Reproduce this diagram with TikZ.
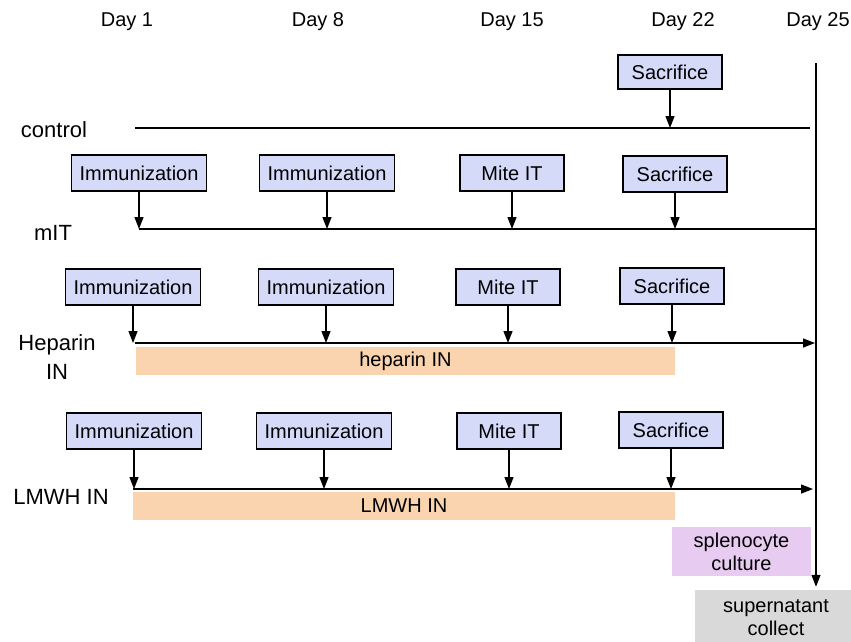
\documentclass[tikz,border=0pt]{standalone}
\usepackage{fontspec}
\setmainfont{Liberation Sans}
\usetikzlibrary{arrows.meta}
\definecolor{boxblue}{HTML}{D6DAF9}
\definecolor{barorange}{HTML}{F9D4AE}
\definecolor{cultpink}{HTML}{E8CBF1}
\definecolor{supgray}{HTML}{D9D9D9}

\begin{document}
\begin{tikzpicture}[x=1pt,y=-1pt,
    every node/.style={font=\fontsize{20}{23}\selectfont},
    rowlab/.style={font=\fontsize{22}{29}\selectfont},
    evt/.style={draw,line width=1.2pt,fill=boxblue,minimum width=104pt,minimum height=36pt,inner xsep=8pt},
    tl/.style={line width=1.3pt},
    tick/.style={line width=1.3pt,-{Triangle[length=12pt,width=9pt]}},
    bar/.style={fill=barorange,inner sep=0pt,minimum height=28pt}]
    \useasboundingbox (0,0) rectangle (851,641);

    % days
    \node (d1) at (127,22) {Day 1};
    \node (d8) at (318,22) {Day 8};
    \node (d15) at (512,22) {Day 15};
    \node (d22) at (683,22) {Day 22};
    \node (d25) at (818,22) {Day 25};

    % control
    \node[rowlab] (lctl) at (54,130) {control};
    \coordinate (c0) at (135,128);
    \coordinate (c1) at (810,128);
    \draw[tl] (c0) -- (c1);
    \node[evt,minimum height=34pt] (cS) at (670,72) {Sacrifice};
    \draw[tick] (cS.south) -- (cS.south |- c0);

    % mIT
    \node[rowlab] (lmit) at (53,233) {mIT};
    \coordinate (m0) at (139,229);
    \coordinate (m1) at (817,229);
    \draw[tl] (m0) -- (m1);
    \node[evt] (mI1) at (139,173) {Immunization};
    \node[evt] (mI8) at (327,173) {Immunization};
    \node[evt] (mM) at (512,173) {Mite IT};
    \node[evt] (mS) at (675,174) {Sacrifice};
    \draw[tick] (mI1.south) -- (mI1.south |- m0);
    \draw[tick] (mI8.south) -- (mI8.south |- m0);
    \draw[tick] (mM.south) -- (mM.south |- m0);
    \draw[tick] (mS.south) -- (mS.south |- m0);

    % heparin
    \node[rowlab,align=center] (lhep) at (57,357) {Heparin\\IN};
    \coordinate (h0) at (135,343);
    \coordinate (h1) at (815,343);
    \draw[tick] (h0) -- (h1);
    \node[bar,minimum width=539pt] (hbar) at (405.5,361) {heparin IN};
    \node[evt] (hI1) at (133,287) {Immunization};
    \node[evt] (hI8) at (326,287) {Immunization};
    \node[evt] (hM) at (508,287) {Mite IT};
    \node[evt] (hS) at (672,286) {Sacrifice};
    \draw[tick] (hI1.south) -- (hI1.south |- h0);
    \draw[tick] (hI8.south) -- (hI8.south |- h0);
    \draw[tick] (hM.south) -- (hM.south |- h0);
    \draw[tick] (hS.south) -- (hS.south |- h0);

    % LMWH
    \node[rowlab] (llmwh) at (61,497) {LMWH IN};
    \coordinate (w0) at (133,489);
    \coordinate (w1) at (813,489);
    \draw[tick] (w0) -- (w1);
    \node[bar,minimum width=542pt] (wbar) at (404,506) {LMWH IN};
    \node[evt] (wI1) at (134,431) {Immunization};
    \node[evt] (wI8) at (324,431) {Immunization};
    \node[evt] (wM) at (509,431) {Mite IT};
    \node[evt] (wS) at (671,430) {Sacrifice};
    \draw[tick] (wI1.south) -- (wI1.south |- w0);
    \draw[tick] (wI8.south) -- (wI8.south |- w0);
    \draw[tick] (wM.south) -- (wM.south |- w0);
    \draw[tick] (wS.south) -- (wS.south |- w0);

    % culture and collect
    \node[fill=cultpink,align=center,minimum width=139pt,minimum height=49pt,inner sep=0pt] (cult) at (741.5,551.5) {splenocyte\\culture};
    \node[fill=supgray,align=center,minimum width=162pt,minimum height=56pt,inner sep=0pt] (sup) at (776,618) {supernatant\\collect};
    \coordinate (v0) at (816,63);
    \draw[tick,shorten >=3pt] (v0) -- (v0 |- sup.north);
\end{tikzpicture}
\end{document}
